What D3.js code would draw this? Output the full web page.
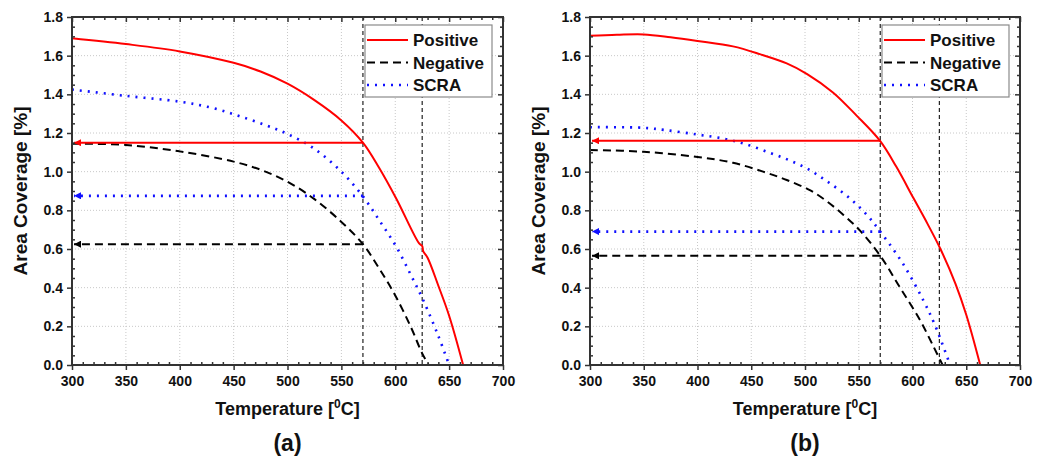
<!DOCTYPE html>
<html>
<head>
<meta charset="utf-8">
<title>Area coverage vs temperature</title>
<script src="https://cdn.jsdelivr.net/npm/d3@7"></script>
<style>
  body { margin: 0; background: #fff; }
  svg { font-family: "Liberation Sans", Arial, sans-serif; }
  .tick text { font-weight: bold; font-size: 14px; fill: #111; }
</style>
</head>
<body>
<svg id="chart" width="1037" height="458"></svg>
<script>
// ---- data (temperature in degC, area coverage in %) ----
const xTicks = [300, 350, 400, 450, 500, 550, 600, 650, 700];
const yTicks = [0.0, 0.2, 0.4, 0.6, 0.8, 1.0, 1.2, 1.4, 1.6, 1.8];
const seriesNames = ["Positive", "Negative", "SCRA"];
const markerTemps = [570, 625];

// panel (a)
const posA = [[300,1.69],[350,1.66],[400,1.622],[450,1.563],[475,1.518],[500,1.455],[525,1.37],[550,1.265],[570,1.15],[585,1.02],[601,0.86],[622,0.63],[625,0.615],[626,0.588],[630,0.555],[640,0.41],[650,0.255],[663,0]];
const negA = [[300,1.145],[350,1.138],[400,1.105],[450,1.052],[475,1.01],[500,0.948],[525,0.858],[550,0.74],[570,0.625],[585,0.5],[600,0.36],[615,0.19],[625,0.06],[631,0]];
const scraA = [[300,1.425],[350,1.392],[400,1.362],[430,1.33],[455,1.288],[480,1.24],[500,1.195],[525,1.118],[550,1.0],[570,0.872],[585,0.75],[601,0.611],[615,0.46],[626,0.335],[640,0.15],[650,0]];
const arrowsA = [1.15, 0.625, 0.875];

// panel (b)
const posB = [[300,1.703],[325,1.708],[350,1.71],[375,1.695],[400,1.676],[433,1.648],[458,1.608],[483,1.56],[502,1.505],[526,1.41],[548,1.29],[570,1.158],[585,1.025],[601,0.862],[614,0.73],[626,0.6],[640,0.42],[650,0.26],[663,0]];
const negB = [[300,1.112],[350,1.103],[400,1.076],[433,1.046],[461,1.0],[483,0.957],[505,0.903],[520,0.848],[535,0.78],[551,0.696],[570,0.565],[588,0.404],[607,0.232],[620,0.09],[628,0]];
const scraB = [[300,1.23],[350,1.227],[370,1.215],[400,1.192],[425,1.17],[445,1.142],[467,1.098],[485,1.06],[502,1.016],[520,0.952],[540,0.87],[557,0.78],[570,0.69],[591,0.525],[610,0.335],[621,0.205],[635,0]];
const arrowsB = [1.16, 0.565, 0.69];

const styles = [
  { color: "#ff0000", width: 2, dash: null },
  { color: "#000000", width: 2, dash: "8,5" },
  { color: "#1010ff", width: 2.6, dash: "2,6" }
];

const svg = d3.select("#chart");

// arrow heads, tip at the line end
svg.append("defs").selectAll("marker")
  .data(styles)
  .join("marker")
  .attr("id", (d, i) => "arr" + i)
  .attr("viewBox", "0 0 10 10")
  .attr("refX", 10).attr("refY", 5)
  .attr("markerUnits", "userSpaceOnUse")
  .attr("markerWidth", 9).attr("markerHeight", 7)
  .attr("orient", "auto")
  .append("path")
  .attr("d", "M0,0 L10,5 L0,10 Z")
  .attr("fill", d => d.color);

function drawPanel(left, right, series, arrows, tag) {
  const top = 17, bottom = 365;
  const x = d3.scaleLinear().domain([300, 700]).range([left, right]);
  const y = d3.scaleLinear().domain([0, 1.8]).range([bottom, top]);
  const g = svg.append("g");

  const xMinor = d3.range(300, 701, 10).filter(v => v % 50 !== 0);
  const yMinor = d3.range(0, 37).map(i => +(i * 0.05).toFixed(2)).filter(v => Math.round(v * 100) % 20 !== 0);

  // grid
  g.append("g").selectAll("line").data(xTicks.slice(1, -1)).join("line")
    .attr("x1", d => x(d)).attr("x2", d => x(d)).attr("y1", top).attr("y2", bottom)
    .attr("stroke", "#c8c8c8").attr("stroke-dasharray", "1,2");
  g.append("g").selectAll("line").data(yTicks.slice(1, -1)).join("line")
    .attr("y1", d => y(d)).attr("y2", d => y(d)).attr("x1", left).attr("x2", right)
    .attr("stroke", "#c8c8c8").attr("stroke-dasharray", "1,2");

  // vertical marker lines
  g.append("g").selectAll("line").data(markerTemps).join("line")
    .attr("x1", d => x(d)).attr("x2", d => x(d)).attr("y1", top).attr("y2", bottom)
    .attr("stroke", "#222").attr("stroke-width", 1.2).attr("stroke-dasharray", "4,3");

  // curves
  const line = d3.line().x(d => x(d[0])).y(d => y(d[1])).curve(d3.curveCatmullRom.alpha(0.5));
  series.forEach((s, i) => {
    g.append("path").datum(s).attr("d", line)
      .attr("fill", "none")
      .attr("stroke", styles[i].color)
      .attr("stroke-width", styles[i].width)
      .attr("stroke-dasharray", styles[i].dash);
  });

  // horizontal arrows at 570 degC
  arrows.forEach((v, i) => {
    g.append("line")
      .attr("x1", x(570)).attr("x2", x(300) + 2)
      .attr("y1", y(v)).attr("y2", y(v))
      .attr("stroke", styles[i].color)
      .attr("stroke-width", styles[i].width)
      .attr("stroke-dasharray", styles[i].dash)
      .attr("marker-end", "url(#arr" + i + ")");
  });

  // axes
  const ax = (axis, tx, ty) => g.append("g").attr("transform", `translate(${tx},${ty})`).call(axis);
  const style = sel => {
    sel.select(".domain").remove();
    sel.selectAll(".tick line").attr("stroke", "#333").attr("stroke-width", 1.5);
  };
  ax(d3.axisBottom(x).tickValues(xTicks).tickSize(5).tickPadding(3).tickFormat(d3.format("d")), 0, bottom)
    .call(style).selectAll("text").attr("dy", "0.9em");
  ax(d3.axisTop(x).tickValues(xMinor).tickSize(3).tickFormat(""), 0, bottom).call(style);
  ax(d3.axisLeft(y).tickValues(yTicks).tickSize(5).tickPadding(4).tickFormat(d3.format(".1f")), left, 0)
    .call(style);
  ax(d3.axisRight(y).tickValues(yMinor).tickSize(3).tickFormat(""), left, 0).call(style);
  ax(d3.axisBottom(x).tickValues(xTicks).tickSize(5).tickFormat(""), 0, top).call(style);
  ax(d3.axisBottom(x).tickValues(xMinor).tickSize(3).tickFormat(""), 0, top).call(style);
  ax(d3.axisLeft(y).tickValues(yTicks).tickSize(5).tickFormat(""), right, 0).call(style);
  ax(d3.axisLeft(y).tickValues(yMinor).tickSize(3).tickFormat(""), right, 0).call(style);

  g.append("rect").attr("x", left).attr("y", top)
    .attr("width", right - left).attr("height", bottom - top)
    .attr("fill", "none").attr("stroke", "#333").attr("stroke-width", 2);

  // legend
  const lx = right - 138, ly = 25;
  g.append("rect").attr("x", lx).attr("y", ly).attr("width", 127).attr("height", 72)
    .attr("fill", "#fff").attr("stroke", "#8a8a8a").attr("stroke-width", 1.2);
  seriesNames.forEach((n, i) => {
    const yy = ly + 15 + i * 22.5;
    g.append("line").attr("x1", lx + 2).attr("x2", lx + 43).attr("y1", yy).attr("y2", yy)
      .attr("stroke", styles[i].color).attr("stroke-width", styles[i].width)
      .attr("stroke-dasharray", styles[i].dash);
    g.append("text").attr("x", lx + 48).attr("y", yy + 6)
      .attr("font-size", 17).attr("font-weight", "bold").attr("fill", "#111").text(n);
  });

  // axis titles
  const cx = (left + right) / 2;
  const xt = g.append("text").attr("x", cx).attr("y", 415).attr("text-anchor", "middle")
    .attr("font-size", 18).attr("font-weight", "bold").attr("fill", "#111");
  xt.append("tspan").text("Temperature [");
  xt.append("tspan").attr("font-size", 12).attr("dy", -7).text("0");
  xt.append("tspan").attr("dy", 7).text("C]");

  g.append("text").attr("transform", `translate(${left - 45},${(top + bottom) / 2}) rotate(-90)`)
    .attr("text-anchor", "middle").attr("font-size", 19).attr("font-weight", "bold")
    .attr("fill", "#111").text("Area Coverage [%]");

  g.append("text").attr("x", cx).attr("y", 451).attr("text-anchor", "middle")
    .attr("font-size", 23).attr("font-weight", "bold").attr("fill", "#111").text(tag);
}

drawPanel(72, 503, [posA, negA, scraA], arrowsA, "(a)");
drawPanel(590, 1020, [posB, negB, scraB], arrowsB, "(b)");
</script>
</body>
</html>
